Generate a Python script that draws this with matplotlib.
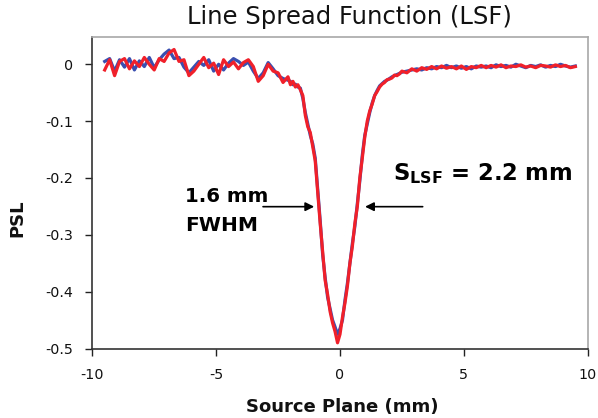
import numpy as np
import matplotlib
matplotlib.use("Agg")
import matplotlib.pyplot as plt

# ---------------- data ----------------
x_left = np.round(np.arange(-9.5, -2.05, 0.2), 2)     # -9.5 .. -2.1
x_mid = np.round(np.arange(-2.0, 2.45, 0.1), 2)       # -2.0 .. 2.4
x_right = np.round(np.arange(2.5, 9.55, 0.2), 2)      # 2.5 .. 9.5
x_mm = np.concatenate([x_left, x_mid, x_right])

blue_left = [0.005, 0.01, -0.012, 0.008, -0.005, 0.01, -0.01, 0.006, -0.004, 0.012,
             -0.006, 0.008, 0.018, 0.025, 0.01, 0.012, -0.005, -0.015, -0.005, 0.005,
             -0.002, 0.008, -0.012, 0.0, -0.01, 0.002, 0.01, 0.005, -0.002, 0.004,
             -0.012, -0.025, -0.015, 0.003, -0.008, -0.02, -0.025, -0.028]
red_left = [-0.01, 0.008, -0.02, 0.005, 0.01, -0.008, 0.006, -0.004, 0.012, 0.0,
            -0.01, 0.01, 0.005, 0.02, 0.026, 0.005, 0.008, -0.02, -0.012, 0.0,
            0.012, -0.006, 0.002, -0.018, 0.008, -0.004, 0.004, -0.008, 0.003, 0.008,
            -0.004, -0.03, -0.02, 0.0, -0.012, -0.015, -0.032, -0.022]

blue_mid = [-0.03, -0.036, -0.035, -0.04, -0.042, -0.06, -0.085, -0.105, -0.125, -0.14,
            -0.165, -0.22, -0.275, -0.335, -0.375, -0.41, -0.43, -0.45, -0.462, -0.475,
            -0.465, -0.45, -0.415, -0.385, -0.35, -0.315, -0.285, -0.245, -0.205, -0.16,
            -0.125, -0.105, -0.085, -0.068, -0.055, -0.046, -0.038, -0.034, -0.03, -0.028,
            -0.025, -0.022, -0.02, -0.018, -0.016]
red_mid = [-0.036, -0.03, -0.04, -0.036, -0.045, -0.055, -0.09, -0.11, -0.12, -0.145,
           -0.17, -0.225, -0.28, -0.33, -0.38, -0.405, -0.435, -0.455, -0.47, -0.49,
           -0.475, -0.445, -0.42, -0.39, -0.35, -0.32, -0.28, -0.25, -0.2, -0.165,
           -0.128, -0.1, -0.082, -0.07, -0.055, -0.048, -0.04, -0.035, -0.032, -0.027,
           -0.026, -0.024, -0.019, -0.02, -0.017]

blue_right = [-0.014, -0.012, -0.01, -0.008, -0.01, -0.006, -0.008, -0.004, -0.006, -0.002,
              -0.006, -0.003, -0.007, -0.004, -0.008, -0.003, -0.005,
              -0.003, -0.006, -0.001, -0.004, -0.002, -0.005, 0.0, -0.003, -0.006, -0.002,
              -0.004, -0.001, -0.005, -0.002, -0.004, 0.0, -0.003, -0.005, -0.003]
red_right = [-0.012, -0.015, -0.008, -0.012, -0.006, -0.009, -0.004, -0.008, -0.003, -0.007,
             -0.004, -0.008, -0.003, -0.009, -0.004, -0.006, -0.002,
             -0.006, -0.002, -0.005, -0.001, -0.006, -0.003, -0.004, -0.001, -0.005, -0.003,
             -0.006, -0.002, -0.003, -0.005, -0.001, -0.004, -0.002, -0.006, -0.004]

psl_blue = np.array(blue_left + blue_mid + blue_right)
psl_red = np.array(red_left + red_mid + red_right)

x_ticks = [-10, -5, 0, 5, 10]
x_tick_labels = ["-10", "-5", "0", "5", "10"]
y_ticks = [0, -0.1, -0.2, -0.3, -0.4, -0.5]
y_tick_labels = ["0", "-0.1", "-0.2", "-0.3", "-0.4", "-0.5"]

title = "Line Spread Function (LSF)"
x_label = "Source Plane (mm)"
y_label = "PSL"

# ---------------- figure ----------------
plt.rcParams['font.family'] = ['DejaVu Sans']
plt.rcParams['mathtext.fontset'] = 'custom'
plt.rcParams['mathtext.rm'] = 'DejaVu Sans:bold'
plt.rcParams['mathtext.bf'] = 'DejaVu Sans:bold'

W, H = 598, 418
fig = plt.figure(figsize=(W / 100, H / 100), dpi=100)
ax = fig.add_axes([92.3 / W, (H - 348.5) / H, (587.7 - 92.3) / W, (348.5 - 37) / H])

ax.plot(x_mm, psl_blue, color='#3a4fb0', lw=2.3, zorder=2)
ax.plot(x_mm, psl_red, color='#f0202a', lw=2.3, zorder=3)

ax.set_xlim(-10, 10)
ax.set_ylim(-0.5, 0.048)
ax.set_xticks(x_ticks)
ax.set_xticklabels(x_tick_labels)
ax.set_yticks(y_ticks)
ax.set_yticklabels(y_tick_labels)
ax.tick_params(axis='both', direction='out', length=5, width=1.0, color='#222222',
               labelsize=10.3, labelcolor='#111111')
ax.tick_params(axis='y', pad=8.5)
ax.tick_params(axis='x', pad=9.0)

for s in ['left', 'bottom']:
    ax.spines[s].set_color('#333333')
    ax.spines[s].set_linewidth(1.2)
for s in ['top', 'right']:
    ax.spines[s].set_color('#a8a8a8')
    ax.spines[s].set_linewidth(1.2)

fig.text(349.5 / W, 1 - 17 / H, title, ha='center', va='center', fontsize=17.5, color='#111111')
fig.text(342 / W, 1 - 407 / H, x_label, ha='center', va='center', fontsize=13,
         fontweight='bold', color='#111111')
fig.text(17.5 / W, 1 - 218 / H, y_label, ha='center', va='center', rotation=90,
         fontsize=13, fontweight='bold', color='#111111')

# annotations
ax.text(-6.25, -0.242, "1.6 mm", fontsize=14.2, fontweight='bold', ha='left', va='baseline')
ax.text(-6.25, -0.293, "FWHM", fontsize=14.5, fontweight='bold', ha='left', va='baseline')
ax.annotate("", xy=(-0.93, -0.2505), xytext=(-3.22, -0.2505),
            arrowprops=dict(arrowstyle='-|>', color='black', lw=1.2, mutation_scale=13))
ax.annotate("", xy=(0.9, -0.2505), xytext=(3.45, -0.2505),
            arrowprops=dict(arrowstyle='-|>', color='black', lw=1.2, mutation_scale=13))
ax.text(2.14, -0.2035, r"$\mathbf{S}_{\mathbf{LSF}}$ = 2.2 mm", fontsize=16.4,
        fontweight='bold', ha='left', va='baseline')

fig.savefig("out.png", dpi=100)
